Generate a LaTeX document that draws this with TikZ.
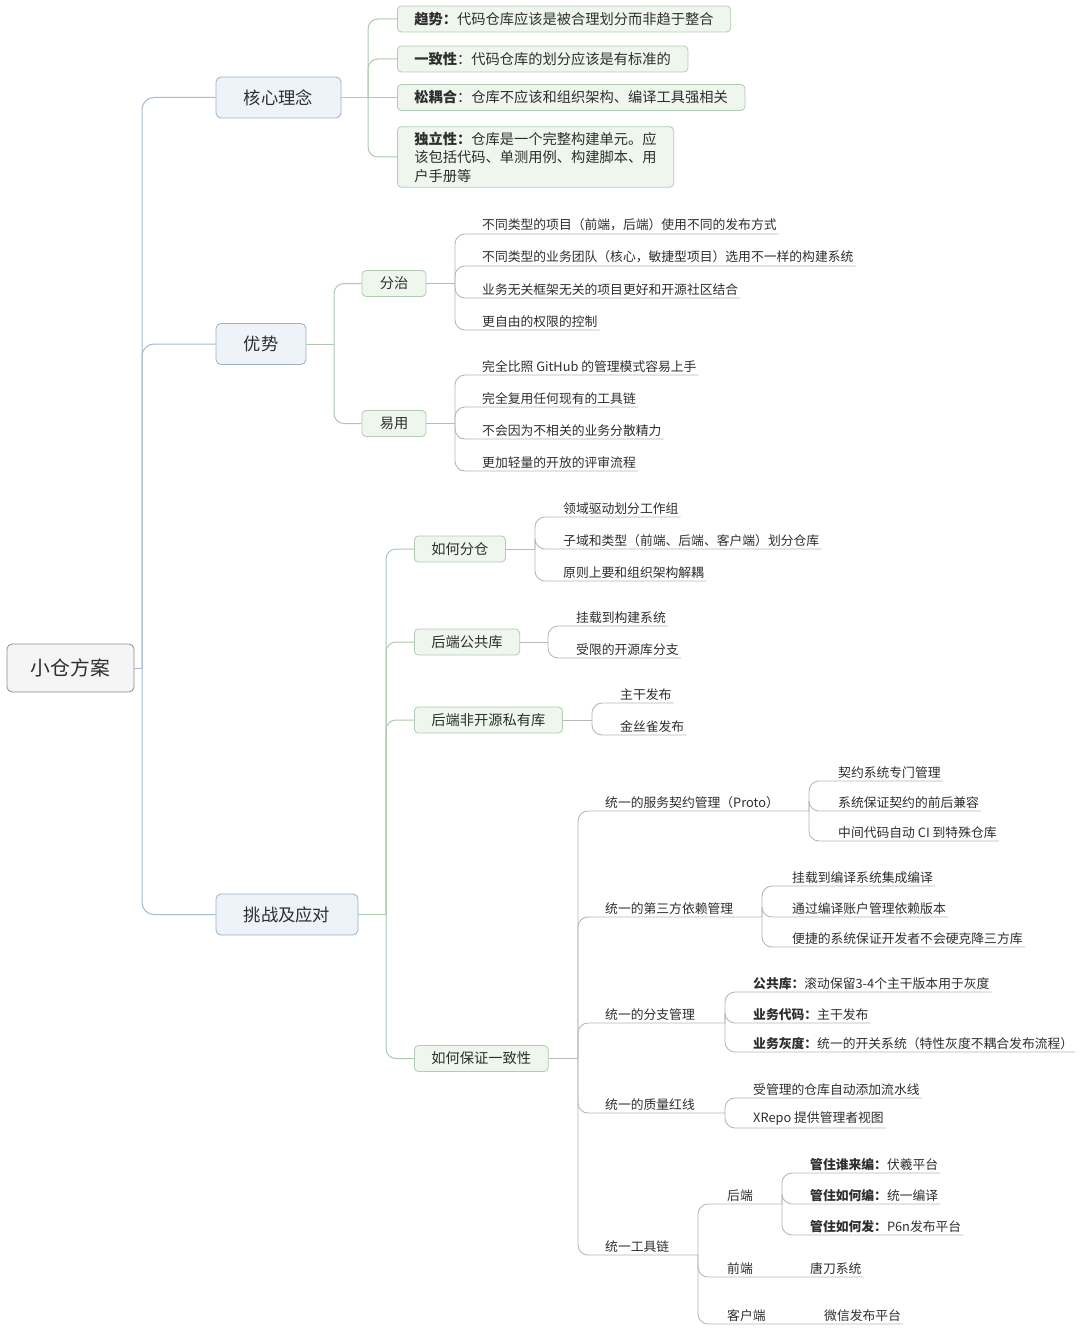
\documentclass[tikz,border=0pt]{standalone}
\usepackage{fontspec}
\setmainfont{Noto Sans CJK SC}
\usepackage{tikz}
\usetikzlibrary{calc}

\definecolor{lineblue}{HTML}{A5BCD2}
\definecolor{boxblue}{HTML}{EEF3FA}
\definecolor{edgeblue}{HTML}{9AB1C9}
\definecolor{linegreen}{HTML}{ADCAB1}
\definecolor{boxgreen}{HTML}{EEF6EE}
\definecolor{edgegreen}{HTML}{B0CDB3}
\definecolor{linegrey}{HTML}{B8B8B8}
\definecolor{textdark}{HTML}{2E2E2E}

\begin{document}
\begin{tikzpicture}[x=1pt, y=-1pt,
    rootbox/.style ={draw=black!45, fill=black!4, rounded corners=5pt, line width=0.8pt,
                     minimum width=127pt, minimum height=48pt, text=textdark,
                     font=\fontsize{19.8}{23}\selectfont},
    mainbox/.style ={draw=edgeblue, fill=boxblue, rounded corners=5pt, line width=0.8pt,
                     minimum height=41pt, text=textdark, font=\fontsize{17.3}{20}\selectfont},
    subbox/.style  ={draw=edgegreen, fill=boxgreen, rounded corners=4pt, line width=0.8pt,
                     minimum height=26pt, inner xsep=17pt, inner ysep=3pt, text=textdark,
                     font=\fontsize{14.25}{18.5}\selectfont},
    leaf/.style    ={anchor=south west, inner xsep=2pt, inner ysep=2.5pt, text=textdark,
                     font=\fontsize{12.8}{15}\selectfont},
    bline/.style   ={draw=lineblue, line width=1pt, rounded corners=12pt},
    gline/.style   ={draw=linegreen, line width=1pt, rounded corners=10pt},
    leafline/.style={draw=linegrey, line width=0.9pt, rounded corners=10pt}
  ]
  \fill[white] (0,0) rectangle (1080,1343);
  \useasboundingbox (0,0) rectangle (1080,1343);

  %% ---- root and main branches --------------------------------------
  \node[rootbox] (root) at (70.5,668) {小仓方案};
  \node[mainbox, minimum width=125pt] (core) at (278.5,97.5)  {核心理念};
  \node[mainbox, minimum width=90pt]  (adv)  at (261,344)    {优势};
  \node[mainbox, minimum width=142pt] (chal) at (287,914.5)  {挑战及应对};
  \coordinate (t0) at (142,668);
  \draw[bline] (root.east) -- (t0);
  \foreach \n in {core,adv,chal} \draw[bline] (t0) |- (\n.west);

  %% ---- core ideas ----------------------------------------------------
  \node[subbox, anchor=west] (trend) at (397,19)   {\textbf{趋势：}代码仓库应该是被合理划分而非趋于整合};
  \node[subbox, anchor=west] (cons)  at (397,59)   {\textbf{一致性}：代码仓库的划分应该是有标准的};
  \node[subbox, anchor=west] (loose) at (397,97.5) {\textbf{松耦合}：仓库不应该和组织架构、编译工具强相关};
  \node[subbox, anchor=west, align=left, inner ysep=5pt] (indep) at (397,157)
    {\textbf{独立性：}仓库是一个完整构建单元。应\\该包括代码、单测用例、构建脚本、用\\户手册等};
  \coordinate (t1) at (368,97.5);
  \draw[gline] (core.east) -- (t1) -- (loose.west);
  \foreach \n in {trend,cons,indep} \draw[gline] (t1) |- (\n.west);

  %% ---- advantages ----------------------------------------------------
  \node[subbox, minimum width=64pt, inner xsep=4pt] (split) at (394,283.5) {分治};
  \node[subbox, minimum width=64pt, inner xsep=4pt] (easy)  at (394,423.5) {易用};
  \coordinate (t2) at (334,344);
  \draw[gline] (adv.east) -- (t2);
  \foreach \n in {split,easy} \draw[gline] (t2) |- (\n.west);

  \coordinate (t3) at (455,283.5);
  \draw[leafline] (split.east) -- (t3);
  \foreach \n/\y/\t in {s1/234/{不同类型的项目（前端，后端）使用不同的发布方式},
                        s2/266/{不同类型的业务团队（核心，敏捷型项目）选用不一样的构建系统},
                        s3/298/{业务无关框架无关的项目更好和开源社区结合},
                        s4/330/{更自由的权限的控制}} {
    \node[leaf] (\n) at (480,\y) {\t};
    \draw[leafline] (t3) |- (\n.south west) -- (\n.south east);
  }

  \coordinate (t4) at (455,423.5);
  \draw[leafline] (easy.east) -- (t4);
  \foreach \n/\y/\t in {e1/375/{完全比照 GitHub 的管理模式容易上手},
                        e2/407/{完全复用任何现有的工具链},
                        e3/439/{不会因为不相关的业务分散精力},
                        e4/471/{更加轻量的开放的评审流程}} {
    \node[leaf] (\n) at (480,\y) {\t};
    \draw[leafline] (t4) |- (\n.south west) -- (\n.south east);
  }

  %% ---- challenges ----------------------------------------------------
  \node[subbox, anchor=west] (repo)  at (414,549)    {如何分仓};
  \node[subbox, anchor=west] (pub)   at (414,642)    {后端公共库};
  \node[subbox, anchor=west] (priv)  at (414,720)    {后端非开源私有库};
  \node[subbox, anchor=west] (unify) at (414,1058.5) {如何保证一致性};
  \coordinate (t5) at (386,914.5);
  \draw[gline] (chal.east) -- (t5);
  \foreach \n in {repo,pub,priv,unify} \draw[gline] (t5) |- (\n.west);

  \coordinate (t6) at (535,549);
  \draw[leafline] (repo.east) -- (t6);
  \foreach \n/\y/\t in {r1/517/{领域驱动划分工作组},
                        r2/549/{子域和类型（前端、后端、客户端）划分仓库},
                        r3/581/{原则上要和组织架构解耦}} {
    \node[leaf] (\n) at (561,\y) {\t};
    \draw[leafline] (t6) |- (\n.south west) -- (\n.south east);
  }

  \coordinate (t7) at (548,642);
  \draw[leafline] (pub.east) -- (t7);
  \foreach \n/\y/\t in {p1/626/{挂载到构建系统}, p2/658/{受限的开源库分支}} {
    \node[leaf] (\n) at (574,\y) {\t};
    \draw[leafline] (t7) |- (\n.south west) -- (\n.south east);
  }

  \coordinate (t8) at (592,720);
  \draw[leafline] (priv.east) -- (t8);
  \foreach \n/\y/\t in {q1/703/{主干发布}, q2/735/{金丝雀发布}} {
    \node[leaf] (\n) at (618,\y) {\t};
    \draw[leafline] (t8) |- (\n.south west) -- (\n.south east);
  }

  %% ---- consistency ---------------------------------------------------
  \coordinate (t9) at (578,1058.5);
  \draw[leafline] (unify.east) -- (t9);
  \node[leaf] (u1) at (603,811)  {统一的服务契约管理（Proto）};
  \node[leaf] (u2) at (603,917)  {统一的第三方依赖管理};
  \node[leaf] (u3) at (603,1023) {统一的分支管理};
  \node[leaf] (u4) at (603,1113) {统一的质量红线};
  \node[leaf] (u5) at (603,1255) {统一工具链};
  \coordinate (t10) at (809,811);
  \coordinate (t11) at (762,917);
  \coordinate (t12) at (725,1023);
  \coordinate (t13) at (725,1113);
  \coordinate (t14) at (698,1255);
  \foreach \n/\c in {u1/t10,u2/t11,u3/t12,u4/t13,u5/t14}
    \draw[leafline] (t9) |- (\n.south west) -- (\c);

  \foreach \n/\y/\t in {v1/781/{契约系统专门管理},
                        v2/811/{系统保证契约的前后兼容},
                        v3/841/{中间代码自动 CI 到特殊仓库}} {
    \node[leaf] (\n) at (836,\y) {\t};
    \draw[leafline] (t10) |- (\n.south west) -- (\n.south east);
  }
  \foreach \n/\y/\t in {w1/886/{挂载到编译系统集成编译},
                        w2/917/{通过编译账户管理依赖版本},
                        w3/947/{便捷的系统保证开发者不会硬克降三方库}} {
    \node[leaf] (\n) at (790,\y) {\t};
    \draw[leafline] (t11) |- (\n.south west) -- (\n.south east);
  }
  \foreach \n/\y/\t in {b1/992/{\textbf{公共库：}滚动保留3-4个主干版本用于灰度},
                        b2/1023/{\textbf{业务代码：}主干发布},
                        b3/1052/{\textbf{业务灰度：}统一的开关系统（特性灰度不耦合发布流程）}} {
    \node[leaf] (\n) at (751,\y) {\t};
    \draw[leafline] (t12) |- (\n.south west) -- (\n.south east);
  }
  \foreach \n/\y/\t in {g1/1098/{受管理的仓库自动添加流水线},
                        g2/1128/{XRepo 提供管理者视图}} {
    \node[leaf] (\n) at (751,\y) {\t};
    \draw[leafline] (t13) |- (\n.south west) -- (\n.south east);
  }

  %% ---- toolchain -----------------------------------------------------
  \node[leaf] (be) at (725,1204) {后端};
  \node[leaf] (fe) at (725,1277) {前端};
  \node[leaf] (cl) at (725,1324) {客户端};
  \node[leaf] (tang)   at (808,1277) {唐刀系统};
  \node[leaf] (wechat) at (822,1324) {微信发布平台};
  \coordinate (t15) at (782,1204);
  \draw[leafline] (t14) |- (be.south west) -- (t15);
  \draw[leafline] (t14) |- (fe.south west) -- (tang.south east);
  \draw[leafline] (t14) |- (cl.south west) -- (wechat.south east);
  \foreach \n/\y/\t in {k1/1173/{\textbf{管住谁来编：}伏羲平台},
                        k2/1204/{\textbf{管住如何编：}统一编译},
                        k3/1235/{\textbf{管住如何发：}P6n发布平台}} {
    \node[leaf] (\n) at (808,\y) {\t};
    \draw[leafline] (t15) |- (\n.south west) -- (\n.south east);
  }

\end{tikzpicture}
\end{document}
